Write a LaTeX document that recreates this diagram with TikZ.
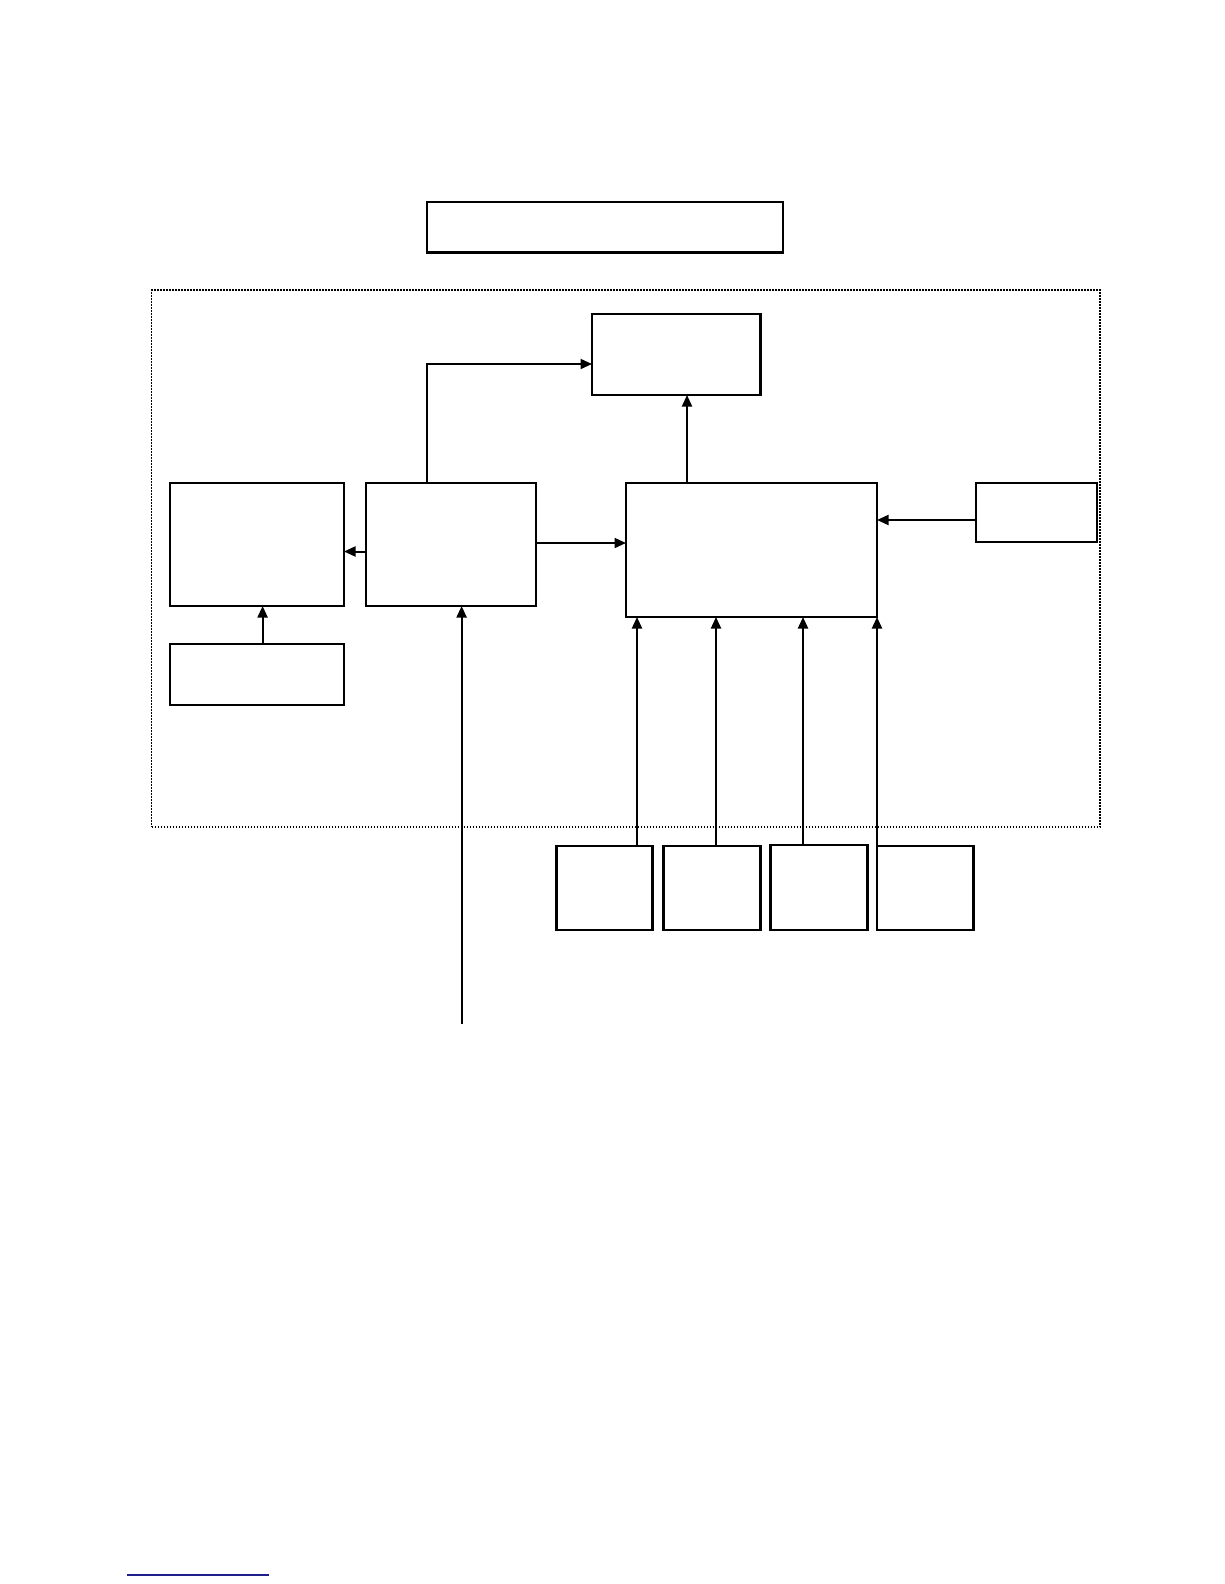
\documentclass[tikz,border=0pt]{standalone}
\usetikzlibrary{arrows.meta}
\begin{document}
\begin{tikzpicture}[x=1pt,y=-1pt,
  box/.style={draw=black,line width=2.4pt,fill=white,rectangle,inner sep=0pt,outer sep=0pt},
  arr/.style={draw=black,line width=2pt,-{Triangle[length=11.5pt,width=10pt]}},
  framebox/.style={draw=black,line width=1.8pt,dash pattern=on 1.6pt off 1.4pt,rectangle,inner sep=0pt,outer sep=0pt}]
\useasboundingbox (0,0) rectangle (1224,1584);
\node[framebox,minimum width=948.5pt,minimum height=537pt] (frame) at (625.75,558.5) {};
\node[box,minimum width=356pt,minimum height=50.5pt] (title) at (605,227.25) {};
\node[box,minimum width=168.5pt,minimum height=81pt] (A) at (676.25,354.5) {};
\node[box,minimum width=174pt,minimum height=123pt] (L1) at (257,544.5) {};
\node[box,minimum width=170pt,minimum height=123pt] (L2) at (451,544.5) {};
\node[box,minimum width=251pt,minimum height=134pt] (C) at (751.5,550) {};
\node[box,minimum width=121pt,minimum height=59pt] (R) at (1036.5,512.5) {};
\node[box,minimum width=174pt,minimum height=61pt] (L3) at (257,674.5) {};
\node[box,minimum width=96pt,minimum height=84pt] (B1) at (604.5,888) {};
\node[box,minimum width=97pt,minimum height=84pt] (B2) at (712,888) {};
\node[box,minimum width=97pt,minimum height=85pt] (B3) at (819,887.5) {};
\node[box,minimum width=96.5pt,minimum height=84pt] (B4) at (925.25,888) {};
% helper coordinates
\coordinate (k1) at (427,364);
\coordinate (k2) at (687,0);
\coordinate (k3) at (0,543);
\coordinate (k4) at (0,551.5);
\coordinate (k5) at (262.6,0);
\coordinate (k6) at (0,520);
\coordinate (src) at (461.6,1024);
\coordinate (b1) at (637,0);
\coordinate (b2) at (716,0);
\coordinate (b3) at (803,0);
\coordinate (b4) at (877,0);
% connectors
\draw[arr] (L2.north -| k1) -- (k1) -- (k1 -| A.west);
\draw[arr] (C.north -| k2) -- (A.south -| k2);
\draw[arr] (L2.east |- k3) -- (C.west |- k3);
\draw[arr] (L2.west |- k4) -- (L1.east |- k4);
\draw[arr] (L3.north -| k5) -- (L1.south -| k5);
\draw[arr] (R.west |- k6) -- (C.east |- k6);
\draw[arr] (src) -- (src |- L2.south);
\draw[arr] (B1.north -| b1) -- (C.south -| b1);
\draw[arr] (B2.north -| b2) -- (C.south -| b2);
\draw[arr] (B3.north -| b3) -- (C.south -| b3);
\draw[arr] (B4.north -| b4) -- (C.south -| b4);
% underline at bottom
\coordinate (u1) at (127,1575);
\coordinate (u2) at (269,1575);
\draw[line width=1.3pt,draw={rgb,255:red,30;green,30;blue,140}] (u1) -- (u2);
\end{tikzpicture}
\end{document}
